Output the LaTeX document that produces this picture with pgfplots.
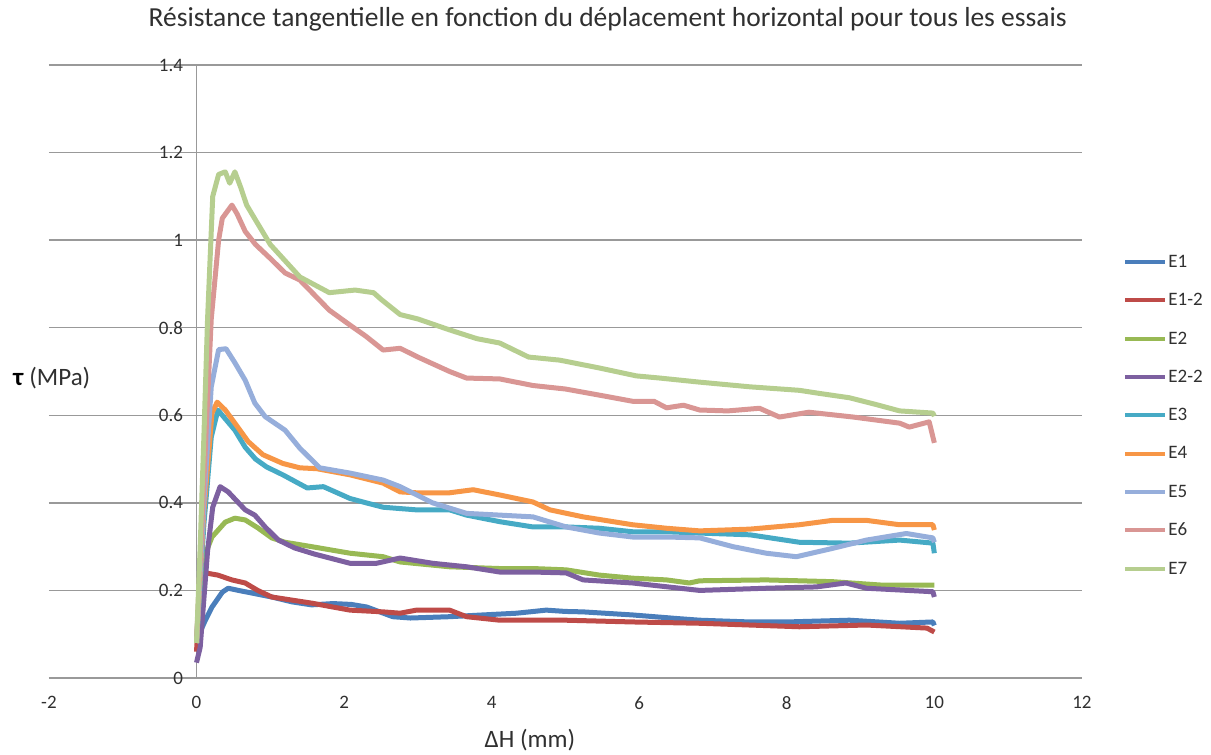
\documentclass[border=0pt]{standalone}
\usepackage{fontspec}
\setmainfont{Carlito}
\usepackage{pgfplots}
\pgfplotsset{compat=1.18}

\definecolor{cE1}{HTML}{4A7EBB}
\definecolor{cE12}{HTML}{BE4B48}
\definecolor{cE2}{HTML}{98B954}
\definecolor{cE22}{HTML}{7D60A0}
\definecolor{cE3}{HTML}{46AAC5}
\definecolor{cE4}{HTML}{F79646}
\definecolor{cE5}{HTML}{96AEDB}
\definecolor{cE6}{HTML}{D99694}
\definecolor{cE7}{HTML}{B6CE8F}
\definecolor{gridgray}{HTML}{999999}
\definecolor{txt}{HTML}{303030}

\begin{document}
\begin{tikzpicture}
\useasboundingbox (-196.5pt,-77pt) rectangle (1014.5pt,678pt);
\begin{axis}[
    at={(0,0)}, anchor=origin,
    scale only axis,
    width=1033pt, height=613pt,
    xmin=-2, xmax=12, ymin=0, ymax=1.4,
    xtick={-2,0,...,12},
    ytick={0,0.2,...,1.4},
    axis x line=bottom, axis y line=middle,
    hide obscured x ticks=false, hide obscured y ticks=false,
    axis line style={-, draw=gridgray, line width=1.4pt},
    ymajorgrids,
    grid style={draw=gridgray, line width=1.4pt},
    major tick length=0pt,
    /pgf/number format/assume math mode=true,
    ticklabel style={font=\fontsize{19}{22}\selectfont, text=txt},
    xticklabel style={yshift=-15pt},
    yticklabel style={xshift=-10pt},
    title={Résistance tangentielle en fonction du déplacement horizontal pour tous les essais},
    title style={at={(rel axis cs:0.541,1)}, anchor=center, yshift=40pt,
        font=\fontsize{27.5}{32}\selectfont, text=txt},
    xlabel={ΔH (mm)},
    xlabel style={at={(rel axis cs:0.4656,0)}, anchor=center, yshift=-62pt,
        font=\fontsize{25}{30}\selectfont, text=txt},
    ylabel={\textcolor{black}{\textbf{τ}} (MPa)},
    ylabel style={at={(rel axis cs:0,0.489)}, anchor=west, xshift=-39pt,
        font=\fontsize{25}{30}\selectfont, text=txt},
    legend style={at={(rel axis cs:1.037,0.695)}, anchor=north west, draw=none, fill=none,
        font=\fontsize{19}{22}\selectfont, text=txt, row sep=22.5pt,
        nodes={inner sep=1pt}},
    legend cell align=left,
    legend image code/.code={\draw[#1, line width=4pt] (0pt,0pt) -- (40pt,0pt);},
    every axis plot/.append style={line width=5pt, line join=round, no markers},
]
\addplot[cE1] coordinates {(0,0.09) (0.02,0.094) (0.12,0.132) (0.21,0.162) (0.35,0.196) (0.43,0.205) (0.57,0.20) (0.75,0.194) (1.02,0.185) (1.29,0.174) (1.56,0.167) (1.85,0.17) (2.1,0.168) (2.31,0.162) (2.5,0.15) (2.66,0.14) (2.9,0.137) (3.43,0.14) (3.88,0.144) (4.34,0.148) (4.74,0.155) (5.0,0.152) (5.24,0.151) (5.91,0.144) (6.5,0.136) (6.82,0.132) (7.5,0.128) (8.0,0.128) (8.85,0.132) (9.53,0.125) (9.98,0.128) (10,0.12)};
\addplot[cE12] coordinates {(0,0.06) (0.05,0.2) (0.12,0.24) (0.29,0.235) (0.48,0.224) (0.66,0.217) (0.83,0.20) (1.02,0.185) (1.29,0.178) (1.56,0.171) (2.08,0.155) (2.53,0.151) (2.76,0.148) (2.98,0.155) (3.43,0.155) (3.66,0.14) (4.11,0.132) (5.0,0.132) (5.91,0.128) (6.82,0.125) (8.17,0.117) (9.08,0.121) (9.9,0.114) (10,0.105)};
\addplot[cE2] coordinates {(0,0.08) (0.05,0.2) (0.14,0.292) (0.21,0.322) (0.39,0.356) (0.52,0.365) (0.66,0.361) (0.83,0.343) (1.02,0.32) (1.2,0.31) (1.56,0.30) (2.08,0.285) (2.53,0.277) (2.76,0.265) (3.43,0.254) (4.11,0.25) (4.56,0.25) (5.01,0.247) (5.46,0.235) (5.91,0.228) (6.37,0.224) (6.68,0.217) (6.82,0.222) (7.72,0.224) (8.62,0.22) (9.3,0.212) (10,0.212)};
\addplot[cE22] coordinates {(0,0.035) (0.05,0.07) (0.15,0.29) (0.22,0.39) (0.32,0.437) (0.43,0.425) (0.57,0.40) (0.66,0.384) (0.79,0.372) (0.93,0.345) (1.11,0.315) (1.33,0.297) (1.6,0.283) (2.08,0.262) (2.44,0.262) (2.76,0.274) (3.2,0.262) (3.66,0.254) (4.11,0.242) (4.56,0.242) (5.01,0.24) (5.24,0.224) (5.91,0.217) (6.82,0.20) (7.72,0.205) (8.4,0.208) (8.8,0.217) (9.08,0.205) (9.98,0.197) (10,0.185)};
\addplot[cE3] coordinates {(0,0.08) (0.1,0.35) (0.2,0.55) (0.29,0.612) (0.52,0.566) (0.66,0.527) (0.8,0.50) (0.95,0.482) (1.17,0.464) (1.5,0.434) (1.72,0.437) (2.08,0.41) (2.3,0.40) (2.53,0.39) (2.98,0.384) (3.43,0.384) (3.66,0.372) (4.11,0.357) (4.56,0.345) (5.01,0.345) (5.46,0.342) (5.91,0.334) (6.37,0.334) (6.82,0.331) (7.5,0.327) (8.17,0.31) (8.85,0.308) (9.53,0.315) (9.98,0.308) (10,0.285)};
\addplot[cE4] coordinates {(0,0.08) (0.1,0.38) (0.21,0.605) (0.28,0.63) (0.39,0.612) (0.52,0.582) (0.7,0.54) (0.9,0.51) (1.17,0.49) (1.4,0.48) (1.63,0.478) (2.08,0.464) (2.53,0.445) (2.76,0.425) (2.98,0.423) (3.43,0.423) (3.75,0.43) (4.11,0.418) (4.56,0.402) (4.79,0.384) (5.24,0.368) (5.91,0.35) (6.37,0.342) (6.82,0.336) (7.5,0.34) (8.17,0.35) (8.62,0.36) (9.08,0.36) (9.53,0.35) (9.98,0.35) (10,0.338)};
\addplot[cE5] coordinates {(0,0.08) (0.1,0.4) (0.2,0.665) (0.3,0.75) (0.4,0.752) (0.52,0.72) (0.66,0.68) (0.79,0.628) (0.93,0.597) (1.2,0.566) (1.4,0.525) (1.55,0.5) (1.67,0.48) (2.08,0.468) (2.53,0.452) (2.76,0.437) (3.2,0.40) (3.66,0.376) (4.11,0.372) (4.56,0.368) (5.01,0.345) (5.46,0.331) (5.91,0.322) (6.37,0.322) (6.82,0.32) (7.27,0.30) (7.72,0.285) (8.13,0.277) (8.62,0.296) (9.08,0.315) (9.62,0.33) (9.98,0.32) (10,0.31)};
\addplot[cE6] coordinates {(0,0.08) (0.1,0.45) (0.2,0.82) (0.25,0.91) (0.3,1.0) (0.35,1.05) (0.48,1.08) (0.55,1.06) (0.66,1.02) (0.8,0.99) (1.02,0.955) (1.2,0.925) (1.4,0.909) (1.8,0.84) (2.08,0.806) (2.3,0.78) (2.53,0.749) (2.76,0.753) (3.0,0.733) (3.43,0.70) (3.66,0.685) (4.11,0.683) (4.56,0.668) (5.0,0.66) (5.46,0.646) (5.91,0.632) (6.2,0.632) (6.37,0.617) (6.6,0.623) (6.82,0.612) (7.2,0.61) (7.63,0.616) (7.9,0.596) (8.3,0.607) (8.9,0.596) (9.53,0.582) (9.66,0.573) (9.93,0.585) (10,0.537)};
\addplot[cE7] coordinates {(0,0.08) (0.05,0.3) (0.1,0.55) (0.15,0.82) (0.22,1.1) (0.3,1.15) (0.39,1.156) (0.45,1.13) (0.52,1.156) (0.6,1.12) (0.68,1.08) (0.8,1.046) (1.0,0.99) (1.4,0.916) (1.8,0.88) (2.15,0.886) (2.4,0.88) (2.5,0.865) (2.76,0.83) (3.0,0.82) (3.43,0.795) (3.8,0.775) (4.11,0.765) (4.5,0.733) (4.92,0.726) (5.46,0.708) (5.96,0.69) (6.28,0.685) (6.8,0.676) (7.5,0.665) (8.17,0.657) (8.44,0.65) (8.85,0.64) (9.2,0.625) (9.53,0.61) (9.98,0.605) (10,0.598)};
\legend{E1, E1-2, E2, E2-2, E3, E4, E5, E6, E7}
\end{axis}
\end{tikzpicture}
\end{document}
